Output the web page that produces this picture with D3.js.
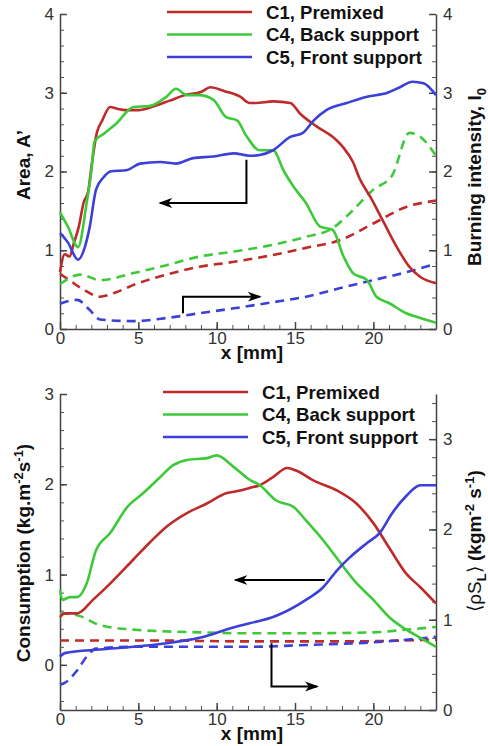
<!DOCTYPE html>
<meta charset="utf-8">
<style>
body { margin: 0; background: #fff; }
svg { font-family: "Liberation Sans", Arial, Helvetica, sans-serif; }
.axis path, .axis line { stroke: #444; stroke-width: 1.5; }
.axis text { font-size: 17px; fill: #333; }
.minor path { display: none; }
.minor line { stroke: #555; stroke-width: 1; }
.lbl { font-size: 19px; font-weight: bold; fill: #111; }
.legend text { font-size: 18.6px; font-weight: bold; fill: #111; }
.curve { fill: none; stroke-width: 2.6; stroke-linejoin: round; }
.dash { stroke-dasharray: 9,6; }
.arrow { fill: none; stroke: #000; stroke-width: 2; }
</style>
<svg width="488" height="746"></svg>
<script src="https://cdn.jsdelivr.net/npm/d3@7"></script>
<script>

var seriesNames = ["C1, Premixed", "C4, Back support", "C5, Front support"];
var colors = ["#bf2a2a", "#3ec93a", "#3c3fd8"];
var xTicks = [0, 5, 10, 15, 20];

// top panel: area A' (left axis, solid)
var areaC1 = [[0,0.72],[0.3,0.95],[0.6,0.92],[0.9,1.1],[1.2,1.3],[1.5,1.6],[1.8,1.75],[2.0,2.05],[2.35,2.49],[2.7,2.65],[3.2,2.82],[3.6,2.8],[4.2,2.78],[5,2.78],[6,2.83],[7,2.9],[8,2.97],[9,3.01],[9.6,3.07],[10.5,3.02],[11.5,2.95],[12.1,2.87],[12.5,2.87],[13.6,2.89],[14.7,2.87],[15.3,2.74],[16.4,2.57],[17.4,2.44],[18.1,2.3],[18.7,2.12],[19.1,1.92],[19.8,1.68],[20.6,1.38],[21.5,1.04],[22.3,0.79],[23,0.66],[24,0.58]];
var areaC4 = [[0,1.48],[0.5,1.3],[1.15,1.04],[1.7,1.6],[2.0,2.0],[2.2,2.38],[2.8,2.48],[3.6,2.61],[4.7,2.82],[5.7,2.83],[6.8,2.95],[7.4,3.05],[8.1,2.97],[8.9,2.97],[9.8,2.91],[10.6,2.69],[11.3,2.65],[11.9,2.45],[12.75,2.27],[13.6,2.27],[14.3,2.0],[14.9,1.81],[15.7,1.6],[16.6,1.3],[17.4,1.26],[18.1,0.92],[18.7,0.71],[19.6,0.62],[20.2,0.41],[21,0.33],[22.1,0.2],[23,0.14],[24,0.08]];
var areaC5 = [[0,1.22],[0.5,1.1],[1.15,0.88],[1.6,1.05],[1.9,1.3],[2.3,1.77],[2.8,1.93],[3.2,2.0],[4.3,2.02],[5.1,2.1],[6.4,2.12],[7.4,2.1],[8.5,2.17],[9.8,2.19],[11.1,2.23],[12.1,2.2],[12.75,2.21],[13.6,2.27],[14.7,2.44],[15.5,2.49],[16.2,2.65],[17,2.78],[18.3,2.87],[19.6,2.95],[20.9,3.0],[21.7,3.07],[22.5,3.14],[23.2,3.12],[24,2.97]];

// top panel: burning intensity I0 (right axis, dashed)
var intC1 = [[0,0.7],[0.6,0.62],[1.5,0.5],[2.55,0.41],[3.5,0.46],[4.7,0.56],[6.8,0.69],[8.9,0.79],[11,0.85],[13.6,0.94],[15.7,1.03],[17.9,1.13],[20,1.34],[22.1,1.55],[24,1.63]];
var intC4 = [[0,0.57],[1.3,0.69],[2.55,0.62],[4.7,0.71],[6.8,0.81],[8.9,0.92],[11,0.98],[13.6,1.07],[15.7,1.17],[17.4,1.28],[18.5,1.47],[20,1.77],[21.2,1.95],[22.3,2.49],[23,2.44],[24,2.2]];
var intC5 = [[0,0.32],[1.1,0.37],[1.9,0.24],[2.55,0.12],[4.7,0.1],[6.8,0.14],[8.9,0.2],[11,0.26],[13.6,0.34],[15.7,0.41],[17.9,0.52],[20,0.62],[22.1,0.72],[24,0.83]];

// bottom panel: consumption (left axis, solid)
var consC1 = [[0,0.53],[0.3,0.57],[1.1,0.57],[2.1,0.72],[3.2,0.9],[4.7,1.17],[5.7,1.35],[6.8,1.53],[8.1,1.68],[9.4,1.79],[10.6,1.9],[11.5,1.93],[12.1,1.96],[12.75,1.99],[13.6,2.08],[14.5,2.18],[15.1,2.15],[16.2,2.04],[17.7,1.93],[18.9,1.79],[20,1.57],[21,1.3],[22.1,1.01],[23,0.86],[24,0.68]];
var consC4 = [[0,0.83],[0.15,0.72],[0.64,0.75],[1.1,0.75],[1.7,0.9],[2.3,1.27],[3.2,1.46],[4.3,1.75],[5.3,1.9],[6.4,2.08],[7.2,2.21],[8.1,2.27],[9.4,2.29],[10,2.32],[11.1,2.19],[12.1,2.05],[12.75,1.99],[13.8,1.82],[14.9,1.75],[15.7,1.6],[16.8,1.38],[17.9,1.13],[18.9,0.91],[20,0.72],[21,0.53],[22.1,0.39],[23,0.3],[24,0.2]];
var consC5 = [[0,0.09],[0.3,0.13],[2.55,0.17],[4.7,0.2],[6.8,0.24],[8.9,0.3],[11,0.41],[12.1,0.46],[13.6,0.53],[15.7,0.72],[16.8,0.86],[17.7,1.05],[18.5,1.19],[19.6,1.35],[20.4,1.46],[21.2,1.68],[22.1,1.87],[23,1.99],[24,1.99]];

// bottom panel: <rho S_L> (right axis, dashed)
var rslC1 = [[0,0.77],[6,0.77],[12,0.76],[18,0.76],[22,0.77],[24,0.78]];
var rslC4 = [[0,1.07],[1.1,1.05],[2.55,0.94],[4.7,0.89],[8.9,0.86],[12,0.85],[15.7,0.85],[20,0.86],[22.1,0.89],[24,0.92]];
var rslC5 = [[0,0.28],[0.3,0.3],[1.1,0.44],[1.7,0.59],[2.3,0.68],[4.7,0.7],[8.9,0.7],[12,0.7],[15.7,0.72],[20,0.75],[24,0.81]];

var svg = d3.select("svg");

svg.append("defs").append("marker")
    .attr("id", "head")
    .attr("viewBox", "-12 -6 14 12")
    .attr("markerWidth", 14)
    .attr("markerHeight", 12)
    .attr("markerUnits", "userSpaceOnUse")
    .attr("orient", "auto")
  .append("path")
    .attr("d", "M2,0 L-12,-5 L-8,0 L-12,5 Z")
    .attr("fill", "#000");

var x = d3.scaleLinear().domain([0, 24]).range([60, 436]);
var fmt = d3.format("d");

function panel(p) {
  var g = svg.append("g");
  var yL = d3.scaleLinear().domain(p.left).range([p.bottom, p.top]);
  var yR = d3.scaleLinear().domain(p.right).range([p.bottom, p.top]);

  function minor(scale, step) {
    var d = scale.domain(), out = [];
    for (var v = Math.ceil(d[0] / step) * step; v <= d[1] + 1e-9; v += step) out.push(+v.toFixed(4));
    return out;
  }

  // minor ticks
  g.append("g").attr("class", "minor").attr("transform", "translate(0," + p.bottom + ")")
      .call(d3.axisBottom(x).tickValues(minor(x, 1)).tickSize(-4).tickFormat(""));
  g.append("g").attr("class", "minor").attr("transform", "translate(60,0)")
      .call(d3.axisLeft(yL).tickValues(minor(yL, 0.2)).tickSize(-4).tickFormat(""));
  g.append("g").attr("class", "minor").attr("transform", "translate(436,0)")
      .call(d3.axisRight(yR).tickValues(minor(yR, 0.2)).tickSize(-4).tickFormat(""));

  // major axes
  g.append("g").attr("class", "axis").attr("transform", "translate(0," + p.bottom + ")")
      .call(d3.axisBottom(x).tickValues(xTicks).tickFormat(fmt).tickSize(-7).tickSizeOuter(0).tickPadding(3));
  g.append("g").attr("class", "axis").attr("transform", "translate(60,0)")
      .call(d3.axisLeft(yL).tickValues(p.leftTicks).tickFormat(fmt).tickSize(-7).tickSizeOuter(0).tickPadding(6));
  g.append("g").attr("class", "axis").attr("transform", "translate(436,0)")
      .call(d3.axisRight(yR).tickValues(p.rightTicks).tickFormat(fmt).tickSize(-7).tickSizeOuter(0).tickPadding(7));

  var lineL = d3.line().x(function(d) { return x(d[0]); }).y(function(d) { return yL(d[1]); }).curve(d3.curveMonotoneX);
  var lineR = d3.line().x(function(d) { return x(d[0]); }).y(function(d) { return yR(d[1]); }).curve(d3.curveMonotoneX);

  p.dashed.forEach(function(s, i) {
    g.append("path").datum(s).attr("class", "curve dash").attr("stroke", colors[i]).attr("d", lineR);
  });
  p.solid.forEach(function(s, i) {
    g.append("path").datum(s).attr("class", "curve").attr("stroke", colors[i]).attr("d", lineL);
  });

  // arrows
  p.arrows.forEach(function(a) {
    var pts = a.map(function(d) { return [x(d[0]), yL(d[1])]; });
    g.append("path").attr("class", "arrow").attr("d", d3.line()(pts)).attr("marker-end", "url(#head)");
  });

  // legend
  var lg = g.append("g").attr("class", "legend");
  seriesNames.forEach(function(n, i) {
    var yy = p.legendY + i * 22.5;
    lg.append("line").attr("x1", p.legendX).attr("x2", p.legendX + 85)
        .attr("y1", yy).attr("y2", yy).attr("stroke", colors[i]).attr("stroke-width", 2.6);
    lg.append("text").attr("x", p.legendX + 99).attr("y", yy + 6.5).text(n);
  });

  // labels
  g.append("text").attr("class", "lbl").attr("x", 252).attr("y", p.bottom + 30)
      .attr("text-anchor", "middle").text("x [mm]");

  var tl = g.append("text").attr("class", "lbl")
      .attr("transform", "translate(30," + p.leftMid + ") rotate(-90)")
      .attr("text-anchor", "middle");
  p.leftLabel(tl);

  var tr = g.append("text").attr("class", "lbl")
      .attr("transform", "translate(481," + p.rightMid + ") rotate(-90)")
      .attr("text-anchor", "middle");
  p.rightLabel(tr);
}

panel({
  top: 14, bottom: 329,
  left: [0, 4], right: [0, 4],
  leftTicks: [0, 1, 2, 3, 4], rightTicks: [0, 1, 2, 3, 4],
  solid: [areaC1, areaC4, areaC5],
  dashed: [intC1, intC4, intC5],
  arrows: [
    [[11.9, 2.15], [11.9, 1.6], [6.4, 1.6]],
    [[7.85, 0.2], [7.85, 0.41], [12.75, 0.41]]
  ],
  legendX: 167, legendY: 12,
  leftMid: 165, rightMid: 177,
  leftLabel: function(t) {
    t.text("Area, A\u2019");
  },
  rightLabel: function(t) {
    t.append("tspan").text("Burning intensity, I");
    t.append("tspan").attr("dy", 5).attr("font-size", 13).text("0");
  }
});

panel({
  top: 394, bottom: 710,
  left: [-0.5, 3], right: [0, 3.5],
  leftTicks: [0, 1, 2, 3], rightTicks: [0, 1, 2, 3],
  solid: [consC1, consC4, consC5],
  dashed: [rslC1, rslC4, rslC5],
  arrows: [
    [[16.9, 0.94], [11.2, 0.94]],
    [[13.5, 0.24], [13.5, -0.24], [16.4, -0.24]]
  ],
  legendX: 163, legendY: 392,
  leftMid: 553, rightMid: 541,
  leftLabel: function(t) {
    t.append("tspan").text("Consumption (kg.m");
    t.append("tspan").attr("dy", -7).attr("font-size", 13).text("-2");
    t.append("tspan").attr("dy", 7).text("s");
    t.append("tspan").attr("dy", -7).attr("font-size", 13).text("-1");
    t.append("tspan").attr("dy", 7).text(")");
  },
  rightLabel: function(t) {
    t.append("tspan").attr("font-weight", "normal").text("\u27E8\u03C1S");
    t.append("tspan").attr("dy", 5).attr("font-size", 13).text("L");
    t.append("tspan").attr("dy", -5).attr("font-weight", "normal").text("\u27E9 ");
    t.append("tspan").text("(kgm");
    t.append("tspan").attr("dy", -7).attr("font-size", 13).text("-2");
    t.append("tspan").attr("dy", 7).text(" s");
    t.append("tspan").attr("dy", -7).attr("font-size", 13).text("-1");
    t.append("tspan").attr("dy", 7).text(")");
  }
});

</script>
